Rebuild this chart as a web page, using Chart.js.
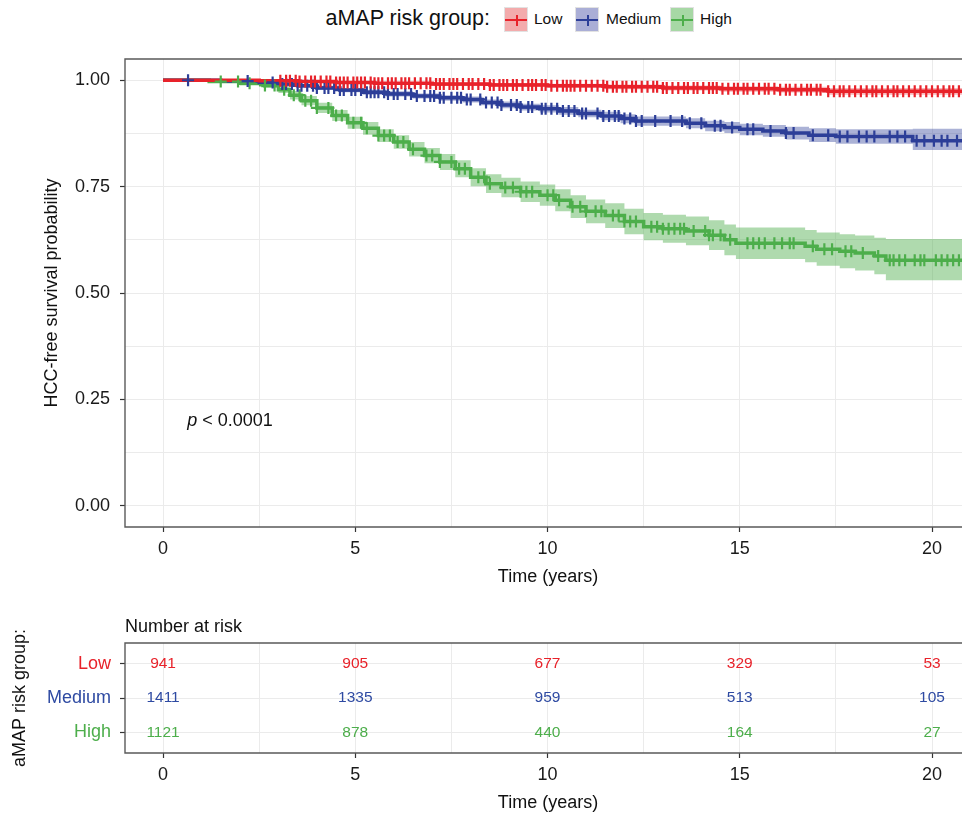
<!DOCTYPE html>
<html>
<head>
<meta charset="utf-8">
<script src="https://cdn.jsdelivr.net/npm/chart.js@4.4.0/dist/chart.umd.min.js"></script>
<style>
html, body { margin: 0; padding: 0; background: #fff; width: 962px; height: 813px; overflow: hidden; }
#main { position: absolute; left: 0; top: 0; }
#risk { position: absolute; left: 0; top: 600px; }
#legend { position: absolute; left: 0; top: 0; width: 962px; height: 40px; font-family: "Liberation Sans", Arial, sans-serif; color: #111; }
#legend .ttl { position: absolute; right: 472px; top: 6px; font-size: 21.5px; }
#legend .box { position: absolute; top: 7px; width: 24px; height: 25px; box-sizing: border-box; border: 1px solid #e2e2e2; }
#legend .box .h { position: absolute; left: 0; right: 0; top: 11px; height: 2px; }
#legend .box .v { position: absolute; left: 11px; width: 2px; top: 7px; height: 11px; }
#legend .lab { position: absolute; top: 10px; font-size: 15.5px; }
</style>
</head>
<body>
<div id="legend">
  <span class="ttl">aMAP risk group:</span>
  <div class="box" style="left:504px;background:#f3abac"><div class="h" style="background:#e8222a"></div><div class="v" style="background:#e8222a"></div></div>
  <span class="lab" style="left:534px">Low</span>
  <div class="box" style="left:575px;background:#aaaed6"><div class="h" style="background:#2c3e98"></div><div class="v" style="background:#2c3e98"></div></div>
  <span class="lab" style="left:606px">Medium</span>
  <div class="box" style="left:670px;background:#a7d8a5"><div class="h" style="background:#4dae4b"></div><div class="v" style="background:#4dae4b"></div></div>
  <span class="lab" style="left:700px">High</span>
</div>
<canvas id="main" width="962" height="600"></canvas>
<canvas id="risk" width="962" height="213"></canvas>
<script>
// Kaplan-Meier step values (time in years, survival)
var lowT = [0, 2.5, 3.5, 4.5, 5.5, 7.0, 8.5, 10.0, 11.5, 13.0, 14.5, 16.0, 17.3, 20.8];
var lowS = [1.000, 0.999, 0.997, 0.995, 0.993, 0.991, 0.989, 0.987, 0.985, 0.982, 0.980, 0.978, 0.974, 0.974];
var lowU = [1.000, 1.000, 0.999, 0.998, 0.996, 0.995, 0.993, 0.992, 0.990, 0.988, 0.986, 0.985, 0.982, 0.982];
var lowL = [1.000, 0.998, 0.995, 0.992, 0.990, 0.987, 0.985, 0.982, 0.979, 0.976, 0.973, 0.971, 0.966, 0.966];

var medT = [0, 1.5, 2.5, 3.0, 3.5, 4.0, 4.6, 5.2, 5.8, 6.5, 7.2, 7.8, 8.3, 8.8, 9.3, 9.8, 10.3, 10.8, 11.4, 11.9, 12.3, 13.6, 14.1, 14.6, 15.0, 15.6, 16.2, 16.8, 17.5, 19.5, 20.8];
var medS = [1.000, 0.998, 0.995, 0.991, 0.987, 0.982, 0.977, 0.972, 0.968, 0.963, 0.959, 0.955, 0.948, 0.942, 0.937, 0.933, 0.928, 0.922, 0.916, 0.910, 0.904, 0.899, 0.893, 0.889, 0.885, 0.881, 0.876, 0.871, 0.868, 0.858, 0.858];
var medU = [1.000, 1.000, 0.998, 0.995, 0.991, 0.987, 0.982, 0.978, 0.974, 0.969, 0.965, 0.962, 0.955, 0.950, 0.945, 0.941, 0.937, 0.931, 0.926, 0.920, 0.915, 0.911, 0.905, 0.902, 0.898, 0.895, 0.891, 0.887, 0.885, 0.886, 0.886];
var medL = [1.000, 0.996, 0.992, 0.987, 0.982, 0.977, 0.972, 0.966, 0.962, 0.957, 0.952, 0.948, 0.941, 0.934, 0.929, 0.924, 0.919, 0.913, 0.906, 0.899, 0.893, 0.887, 0.880, 0.876, 0.871, 0.867, 0.861, 0.855, 0.851, 0.836, 0.836];

var highT = [0, 1.2, 2.0, 2.6, 3.0, 3.3, 3.6, 4.0, 4.4, 4.8, 5.2, 5.6, 6.0, 6.4, 6.8, 7.2, 7.6, 8.0, 8.4, 8.8, 9.3, 9.8, 10.2, 10.6, 11.0, 11.5, 12.0, 12.5, 13.0, 13.6, 14.2, 14.6, 14.9, 16.7, 17.0, 17.6, 18.0, 18.5, 18.8, 20.8];
var highS = [1.000, 0.997, 0.993, 0.988, 0.978, 0.965, 0.952, 0.935, 0.917, 0.900, 0.887, 0.870, 0.855, 0.838, 0.823, 0.808, 0.792, 0.772, 0.757, 0.748, 0.738, 0.730, 0.718, 0.703, 0.692, 0.682, 0.668, 0.656, 0.651, 0.646, 0.636, 0.625, 0.617, 0.610, 0.603, 0.598, 0.594, 0.587, 0.577, 0.577];
var highU = [1.000, 0.999, 0.997, 0.994, 0.986, 0.975, 0.963, 0.947, 0.930, 0.914, 0.902, 0.885, 0.871, 0.855, 0.841, 0.827, 0.812, 0.793, 0.779, 0.771, 0.762, 0.755, 0.744, 0.730, 0.720, 0.711, 0.698, 0.688, 0.684, 0.680, 0.671, 0.661, 0.654, 0.648, 0.642, 0.638, 0.635, 0.630, 0.627, 0.627];
var highL = [1.000, 0.994, 0.988, 0.982, 0.970, 0.955, 0.941, 0.923, 0.904, 0.886, 0.872, 0.855, 0.839, 0.821, 0.805, 0.789, 0.772, 0.751, 0.735, 0.725, 0.714, 0.705, 0.692, 0.676, 0.664, 0.653, 0.638, 0.624, 0.618, 0.612, 0.601, 0.589, 0.580, 0.572, 0.564, 0.558, 0.553, 0.544, 0.530, 0.530];

// censoring times (years)
var censorLow = [3.05, 3.2, 3.3, 3.45, 3.55, 3.7, 3.85, 3.95, 4.1, 4.25, 4.35, 4.5, 4.6, 4.7, 4.8, 4.95, 5.05, 5.15, 5.25, 5.4, 5.5, 5.6, 5.7, 5.85, 5.95, 6.05, 6.2, 6.3, 6.4, 6.55, 6.7, 6.85, 6.95, 7.1, 7.2, 7.3, 7.45, 7.55, 7.65, 7.8, 7.95, 8.05, 8.2, 8.35, 8.5, 8.6, 8.75, 8.85, 8.95, 9.1, 9.2, 9.35, 9.5, 9.6, 9.7, 9.85, 9.95, 10.1, 10.25, 10.4, 10.5, 10.6, 10.7, 10.85, 11.0, 11.15, 11.3, 11.45, 11.55, 11.7, 11.8, 11.95, 12.05, 12.2, 12.3, 12.45, 12.6, 12.75, 12.85, 13.0, 13.1, 13.25, 13.4, 13.55, 13.65, 13.8, 13.9, 14.05, 14.2, 14.3, 14.4, 14.55, 14.7, 14.85, 14.95, 15.1, 15.2, 15.35, 15.5, 15.65, 15.75, 15.9, 16.05, 16.2, 16.3, 16.45, 16.6, 16.75, 16.85, 17.0, 17.1, 17.3, 17.45, 17.6, 17.7, 17.85, 18.0, 18.15, 18.3, 18.45, 18.55, 18.7, 18.85, 19.0, 19.1, 19.25, 19.4, 19.55, 19.7, 19.85, 20.0, 20.15, 20.3, 20.45, 20.55, 20.7];
var censorMed = [0.65, 2.2, 2.85, 3.1, 3.2, 3.35, 3.5, 3.6, 3.75, 3.9, 4.0, 4.2, 4.3, 4.45, 4.6, 4.7, 4.9, 5.0, 5.15, 5.3, 5.4, 5.5, 5.6, 5.75, 5.85, 6.0, 6.1, 6.3, 6.45, 6.6, 6.8, 6.95, 7.05, 7.2, 7.3, 7.5, 7.65, 7.75, 7.9, 8.0, 8.25, 8.4, 8.55, 8.7, 8.8, 9.05, 9.2, 9.3, 9.5, 9.6, 9.85, 9.95, 10.1, 10.25, 10.4, 10.55, 10.7, 10.9, 11.0, 11.3, 11.45, 11.6, 11.75, 11.85, 12.0, 12.15, 12.3, 12.45, 12.8, 13.2, 13.5, 13.7, 14.0, 14.35, 14.5, 14.8, 15.2, 15.35, 15.8, 16.2, 16.4, 16.9, 17.3, 17.6, 17.8, 18.1, 18.3, 18.5, 18.9, 19.1, 19.3, 19.6, 19.8, 20.05, 20.25, 20.4, 20.65];
var censorHigh = [1.5, 1.95, 2.25, 2.65, 2.9, 3.15, 3.4, 3.55, 3.7, 3.85, 4.0, 4.3, 4.5, 4.65, 4.95, 5.15, 5.3, 5.6, 5.75, 5.9, 6.1, 6.25, 6.5, 6.85, 7.0, 7.2, 7.5, 7.7, 7.85, 8.2, 8.35, 8.5, 8.9, 9.1, 9.3, 9.45, 9.6, 10.0, 10.15, 10.3, 10.65, 10.85, 11.0, 11.25, 11.4, 11.7, 11.85, 12.0, 12.15, 12.3, 12.7, 12.85, 13.0, 13.15, 13.3, 13.45, 13.55, 13.8, 14.1, 14.2, 14.3, 14.5, 14.75, 15.2, 15.35, 15.5, 15.65, 15.9, 16.1, 16.3, 16.4, 16.9, 17.2, 17.4, 17.75, 17.9, 18.2, 18.6, 18.9, 19.0, 19.15, 19.3, 19.55, 19.7, 19.8, 20.1, 20.25, 20.4, 20.55, 20.7];

// number at risk table
var riskTimes = [0, 5, 10, 15, 20];
var riskLow = [941, 905, 677, 329, 53];
var riskMed = [1411, 1335, 959, 513, 105];
var riskHigh = [1121, 878, 440, 164, 27];

var groupNames = ['Low', 'Medium', 'High'];
var yTicks = [0, 0.125, 0.25, 0.375, 0.5, 0.625, 0.75, 0.875, 1];
var xTicks = [0, 2.5, 5, 7.5, 10, 12.5, 15, 17.5, 20];

var FONT = "'Liberation Sans', Arial, Helvetica, sans-serif";
Chart.defaults.font.family = FONT;
Chart.defaults.color = '#1a1a1a';

var red = '#e8222a', blue = '#2c3e98', green = '#4dae4b';

function pts(t, v) {
    return t.map(function (x, i) { return { x: x, y: v[i] }; });
}
function survAt(t, s, x) {
    var v = s[0];
    for (var i = 0; i < t.length; i++) if (t[i] <= x) v = s[i];
    return v;
}

var groups = [
    { t: highT, s: highS, u: highU, l: highL, c: censorHigh, color: green, band: 'rgba(77,174,75,0.45)', o: 3 },
    { t: medT, s: medS, u: medU, l: medL, c: censorMed, color: blue, band: 'rgba(44,62,152,0.40)', o: 2 },
    { t: lowT, s: lowS, u: lowU, l: lowL, c: censorLow, color: red, band: 'rgba(232,34,42,0.32)', o: 1 }
];

var datasets = [];
groups.forEach(function (g) {
    datasets.push({ data: pts(g.t, g.u), stepped: true, borderWidth: 0, pointRadius: 0, fill: false, order: 20 + g.o });
    datasets.push({ data: pts(g.t, g.l), stepped: true, borderWidth: 0, pointRadius: 0, fill: '-1', backgroundColor: g.band, order: 20 + g.o });
    datasets.push({ data: pts(g.t, g.s), stepped: true, borderColor: g.color, borderWidth: 3.5, pointRadius: 0, fill: false, order: 10 + g.o });
    datasets.push({
        data: g.c.map(function (x) { return { x: x, y: survAt(g.t, g.s, x) }; }),
        showLine: false, pointStyle: 'cross', pointRadius: 6, pointBorderWidth: 2.2,
        pointBorderColor: g.color, borderColor: g.color, order: g.o
    });
});

function xAxis() {
    return {
        type: 'linear', min: -0.99, max: 20.78,
        afterBuildTicks: function (s) { s.ticks = xTicks.map(function (v) { return { value: v }; }); },
        afterFit: null,
        ticks: {
            font: { size: 18 }, color: '#1a1a1a', padding: 6, maxRotation: 0,
            callback: function (v) { return v % 5 === 0 ? String(v) : ''; }
        },
        grid: {
            color: '#ebebeb', lineWidth: 1, tickLength: 5,
            tickColor: function (c) { return c.tick && c.tick.value % 5 === 0 ? '#333' : 'rgba(0,0,0,0)'; },
            tickWidth: 1.2
        },
        border: { display: false }
    };
}

function frame(ctx, a) {
    ctx.strokeStyle = '#5a5a5a';
    ctx.lineWidth = 1.4;
    ctx.beginPath();
    ctx.moveTo(a.right + 3, a.top);
    ctx.lineTo(a.left, a.top);
    ctx.lineTo(a.left, a.bottom);
    ctx.lineTo(a.right + 3, a.bottom);
    ctx.stroke();
}

var mainDecor = {
    id: 'mainDecor',
    afterDraw: function (chart) {
        var ctx = chart.ctx, a = chart.chartArea, x = chart.scales.x, y = chart.scales.y;
        ctx.save();
        frame(ctx, a);
        ctx.fillStyle = '#111';
        ctx.textBaseline = 'middle';
        // p value
        var px = x.getPixelForValue(0.63), py = y.getPixelForValue(0.2);
        ctx.textAlign = 'left';
        ctx.font = 'italic 18px ' + FONT;
        ctx.fillText('p', px, py);
        var w = ctx.measureText('p').width;
        ctx.font = '18px ' + FONT;
        ctx.fillText(' < 0.0001', px + w, py);
        // axis titles
        ctx.textAlign = 'center';
        ctx.fillText('Time (years)', 548, 577);
        ctx.translate(52, (a.top + a.bottom) / 2);
        ctx.rotate(-Math.PI / 2);
        ctx.fillText('HCC-free survival probability', 0, 0);
        ctx.restore();
    }
};

var mx = xAxis();
mx.afterFit = function (s) { s.height = 73; };

new Chart(document.getElementById('main'), {
    type: 'line',
    data: { datasets: datasets },
    options: {
        responsive: false, animation: false,
        layout: { autoPadding: false, padding: { top: 59, left: 0, right: 0, bottom: 0 } },
        plugins: { legend: { display: false }, tooltip: { enabled: false } },
        scales: {
            x: mx,
            y: {
                type: 'linear', min: -0.05, max: 1.05,
                afterBuildTicks: function (s) { s.ticks = yTicks.map(function (v) { return { value: v }; }); },
                afterFit: function (s) { s.width = 125; },
                ticks: {
                    font: { size: 18 }, color: '#1a1a1a', padding: 10,
                    callback: function (v) { return (v * 4) % 1 === 0 ? v.toFixed(2) : ''; }
                },
                grid: {
                    color: '#ebebeb', lineWidth: 1, tickLength: 5,
                    tickColor: function (c) { return c.tick && (c.tick.value * 4) % 1 === 0 ? '#333' : 'rgba(0,0,0,0)'; },
                    tickWidth: 1.2
                },
                border: { display: false }
            }
        }
    },
    plugins: [mainDecor]
});

// ---- number at risk table ----
var riskCounts = [riskLow, riskMed, riskHigh];
var riskColors = [red, '#2e4aa2', green];

var riskDecor = {
    id: 'riskDecor',
    afterDraw: function (chart) {
        var ctx = chart.ctx, a = chart.chartArea, x = chart.scales.x, y = chart.scales.y;
        ctx.save();
        frame(ctx, a);
        ctx.textAlign = 'center';
        ctx.textBaseline = 'middle';
        ctx.font = '15.5px ' + FONT;
        chart.data.datasets.forEach(function (ds, gi) {
            ds.data.forEach(function (p, i) {
                ctx.fillStyle = riskColors[gi];
                ctx.fillText(String(riskCounts[gi][i]), x.getPixelForValue(p.x), y.getPixelForValue(p.y));
            });
        });
        ctx.fillStyle = '#111';
        ctx.font = '18px ' + FONT;
        ctx.fillText('Time (years)', 548, 203);
        ctx.textAlign = 'left';
        ctx.fillText('Number at risk', a.left, 27);
        ctx.textAlign = 'center';
        ctx.translate(20, (a.top + a.bottom) / 2);
        ctx.rotate(-Math.PI / 2);
        ctx.fillText('aMAP risk group:', 0, 0);
        ctx.restore();
    }
};

var rx = xAxis();
rx.afterFit = function (s) { s.height = 60; };

new Chart(document.getElementById('risk'), {
    type: 'scatter',
    data: {
        datasets: riskCounts.map(function (cnt, gi) {
            return { data: riskTimes.map(function (t) { return { x: t, y: gi + 1 }; }), pointRadius: 0 };
        })
    },
    options: {
        responsive: false, animation: false,
        layout: { autoPadding: false, padding: { top: 43, left: 0, right: 0, bottom: 0 } },
        plugins: { legend: { display: false }, tooltip: { enabled: false } },
        scales: {
            x: rx,
            y: {
                type: 'linear', min: 0.4, max: 3.6, reverse: true,
                afterBuildTicks: function (s) { s.ticks = [1, 2, 3].map(function (v) { return { value: v }; }); },
                afterFit: function (s) { s.width = 125; },
                ticks: {
                    font: { size: 18 }, padding: 9,
                    color: function (c) { return riskColors[c.index]; },
                    callback: function (v) { return groupNames[v - 1]; }
                },
                grid: { color: '#ebebeb', lineWidth: 1, tickLength: 5, tickColor: '#333', tickWidth: 1.2 },
                border: { display: false }
            }
        }
    },
    plugins: [riskDecor]
});
</script>
</body>
</html>
